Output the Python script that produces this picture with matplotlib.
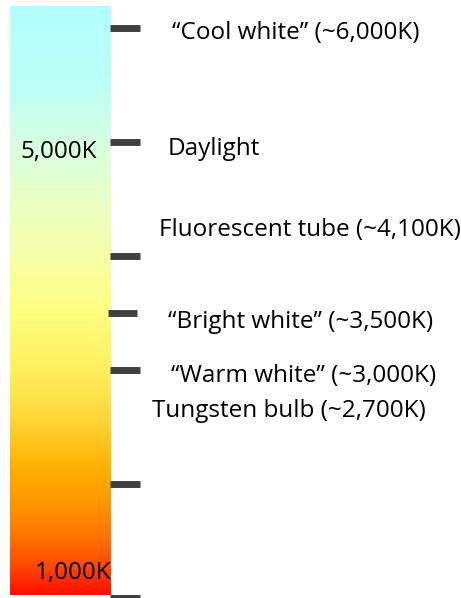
import matplotlib
matplotlib.use('Agg')
import matplotlib.pyplot as plt
import numpy as np
from matplotlib.colors import LinearSegmentedColormap

# colour temperature scale (kelvin)
tick_kelvin = [6000, 5000, 4000, 3500, 3000, 2000, 1000]
scale_labels = ['5,000K', '1,000K']
scale_label_kelvin = [5000, 1000]

source_labels = ['\u201cCool white\u201d (~6,000K)', 'Daylight', 'Fluorescent tube (~4,100K)',
                 '\u201cBright white\u201d (~3,500K)', '\u201cWarm white\u201d (~3,000K)',
                 'Tungsten bulb (~2,700K)']
source_kelvin = [6000, 5000, 4100, 3500, 3000, 2700]

# gradient stops: kelvin, colour
grad_kelvin = [1000, 1250, 1500, 1800, 2100, 2500, 2800, 3000, 3500, 4000, 4600, 5000, 5500, 6180]
grad_colors = ['#ff1000', '#ff4a00', '#ff7400', '#ff9600', '#ffb000', '#ffd230', '#ffe650',
               '#fff060', '#ffff80', '#f6ffa8', '#e6ffcc', '#d6ffe2', '#bcfff6', '#b3ffff']

W, H = 461, 598
px_per_k = 0.1139
kmin = 1000 - 0.5 / px_per_k
kmax = 6000 + 28 / px_per_k

fig = plt.figure(figsize=(W / 100, H / 100), dpi=100)
ax = fig.add_axes([0, 0, 1, 1])
ax.set_xlim(0, W)
ax.set_ylim(kmin, kmax)
ax.axis('off')

# gradient bar
kk = np.linspace(1000, 6180, 600)
pos = [(k - 1000) / (6180 - 1000) for k in grad_kelvin]
cmap = LinearSegmentedColormap.from_list('ct', list(zip(pos, grad_colors)))
ax.imshow(kk[:, None], cmap=cmap, origin='lower', aspect='auto',
          extent=[10, 110, 1000 + 3 / px_per_k, 6000 + 22 / px_per_k], interpolation='bilinear')

# tick marks
for k in tick_kelvin:
    x0, x1 = (108, 137) if k == 3500 else (110, 140)
    ax.plot([x0, x1], [k, k], color='#404040', lw=5, solid_capstyle='butt')

fnt = ['Open Sans', 'DejaVu Sans']
fs = 17.5

# scale labels inside bar
ax.text(97, 5000 - 10 / px_per_k, scale_labels[0], ha='right', va='center', fontsize=fs, family=fnt)
ax.text(111, 1000 + 24 / px_per_k, scale_labels[1], ha='right', va='center', fontsize=fs, family=fnt)

# light source labels
label_x = [172, 168, 159, 168, 171, 152]
label_dy = [-5, -7, 14, -9.5, -6, -7]
for lab, k, x, dy in zip(source_labels, source_kelvin, label_x, label_dy):
    ax.text(x, k + dy / px_per_k, lab, ha='left', va='center', fontsize=fs, family=fnt)

fig.savefig('out.png', dpi=100)
